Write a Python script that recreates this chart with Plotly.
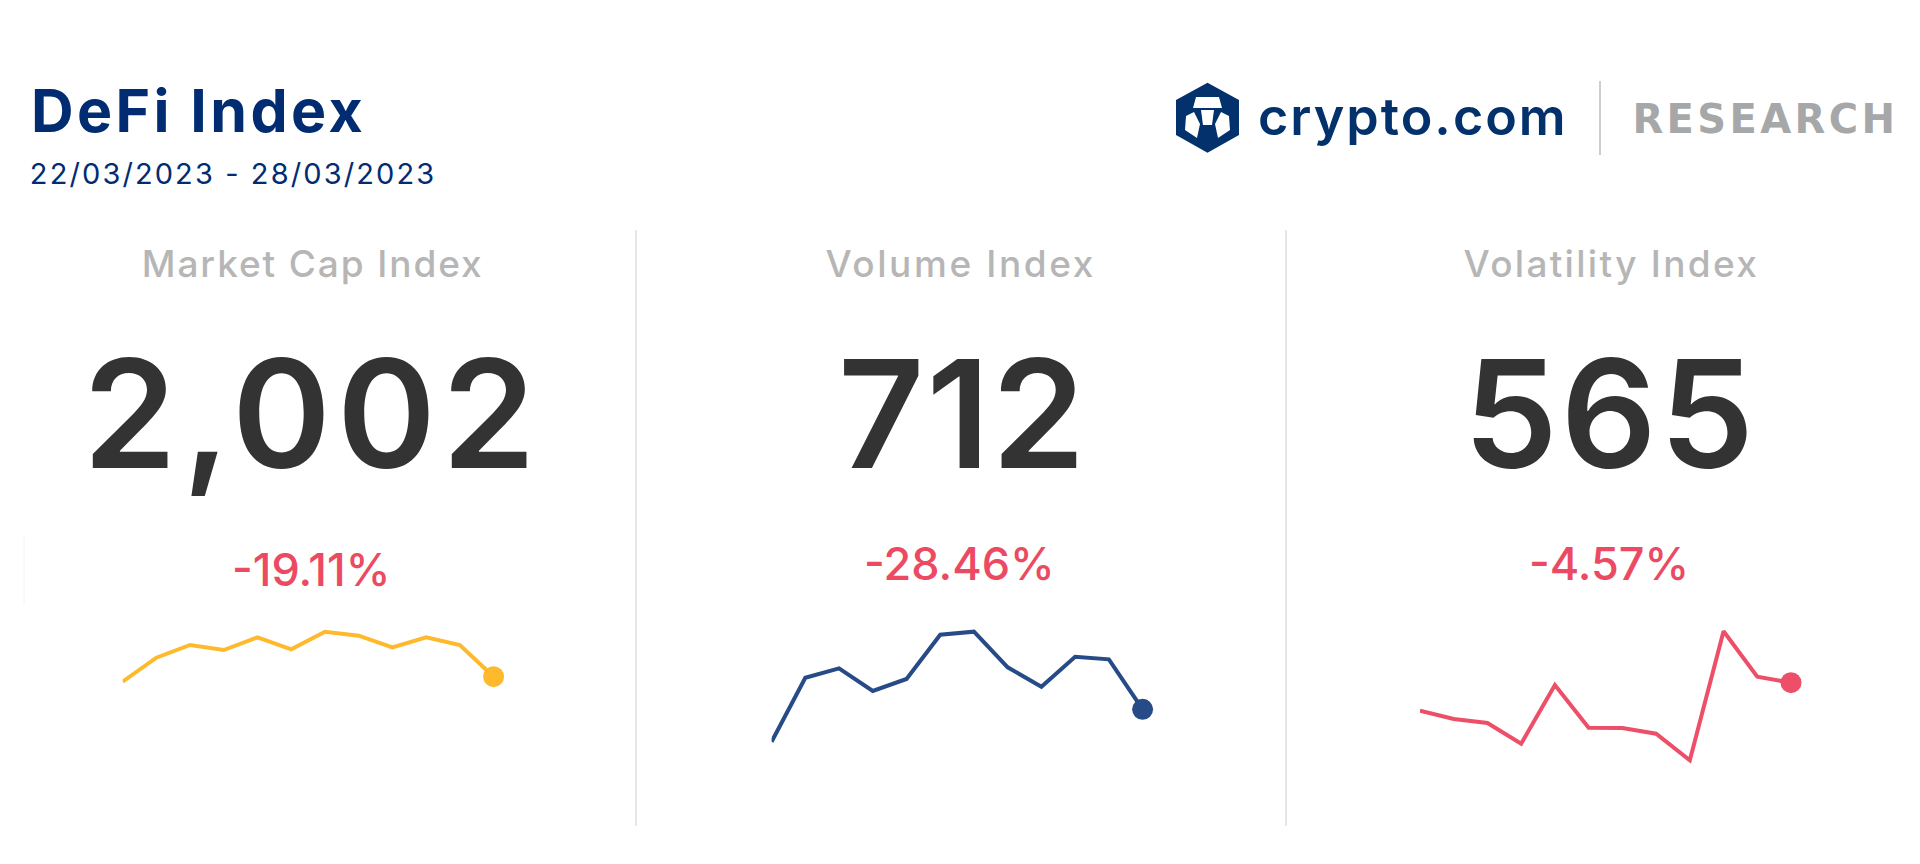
import json

import plotly.graph_objects as go

W = 1920
H = 864

# panel texts
panel_titles = ["Market Cap Index", "Volume Index", "Volatility Index"]
index_values = ["2,002", "712", "565"]
pct_changes = ["-19.11%", "-28.46%", "-4.57%"]

# sparklines (no axis in the original so units are arbitrary)
steps = [0, 1, 2, 3, 4, 5, 6, 7, 8, 9, 10, 11]
market_cap = [118.3, 142.3, 155, 150, 162.7, 150.7, 168.3, 164.3, 152.7, 162.7, 155, 123.3]
volume = [58.3, 122.3, 131.7, 109, 121, 165.3, 168.3, 132.7, 113.3, 143.3, 140.7, 90.7]
volatility = [89.3, 81, 77, 56.3, 115, 72.3, 72, 66.3, 39.7, 168.7, 123.3, 117.3]

series = [market_cap, volume, volatility]
colors = ["#FFB92D", "#274B87", "#EC4F67"]
spark_left = [122.6, 771.6, 1420]
centers = [312, 960, 1611]
big_centers = [312, 962, 1610]
pct_centers = [311, 959, 1609]
pct_y = [569, 563, 563]

GREY = "#B6B6B6"
DARK = "#333333"
RED = "#EC4A63"
NAVY = "#012C72"
FONT = "Inter"

# Inter is narrower than the original face, so open the tracking up a little (px)
tracking = {
    "DeFi Index": 3.4,
    "22/03/2023 - 28/03/2023": 2.1,
    "crypto.com": 2,
    "RESEARCH": 3.4,
    "Market Cap Index": 1.9,
    "Volume Index": 2.6,
    "Volatility Index": 2.3,
    "2,002": 6,
    "712": 2,
    "565": 3,
}


def px(x):
    return x / W


def py(y):
    return 1 - y / H


def label(x, y, text, size, color, weight=400, family=FONT):
    return dict(xref="paper", yref="paper", x=px(x), y=py(y), text=text, showarrow=False,
                xanchor="center", yanchor="middle", font=dict(family=family, size=size, color=color, weight=weight))


def line(x0, y0, x1, y1, color, width=2):
    return dict(type="line", xref="paper", yref="paper", x0=px(x0), y0=py(y0), x1=px(x1), y1=py(y1),
                line=dict(color=color, width=width))


def poly(points, color):
    d = "M " + " L ".join(f"{px(a):.5f},{py(b):.5f}" for a, b in points) + " Z"
    return dict(type="path", xref="paper", yref="paper", path=d, fillcolor=color, line=dict(width=0))


fig = go.Figure()
layout_axes = {}

for i in range(3):
    n = "" if i == 0 else str(i + 1)
    fig.add_trace(go.Scatter(x=steps, y=series[i], mode="lines", xaxis="x" + n, yaxis="y" + n, cliponaxis=False,
                             line=dict(color=colors[i], width=4), hoverinfo="skip", showlegend=False))
    fig.add_trace(go.Scatter(x=steps[-1:], y=series[i][-1:], mode="markers", xaxis="x" + n, yaxis="y" + n,
                             cliponaxis=False, marker=dict(color=colors[i], size=21), hoverinfo="skip",
                             showlegend=False))
    # 1 unit on y = 1 px, zero sits at y=800 px
    layout_axes["xaxis" + n] = dict(domain=[px(spark_left[i]), px(spark_left[i] + 371)], range=[0, 11],
                                    visible=False, fixedrange=True)
    layout_axes["yaxis" + n] = dict(domain=[py(800), py(600)], range=[0, 200], visible=False, fixedrange=True)

annotations = [
    label(198, 111, "DeFi Index", 59, NAVY, 700),
    label(233, 174, "22/03/2023 - 28/03/2023", 29, NAVY),
    label(1412.5, 116, "crypto.com", 52, "#03316C", 600),
    label(1765.5, 119, "RESEARCH", 40, "#A5A7A8", 700, "DejaVu Sans"),
]
for i in range(3):
    annotations.append(label(centers[i], 263, panel_titles[i], 37, GREY, 500))
    annotations.append(label(big_centers[i], 413, index_values[i], 150, DARK, 600))
    annotations.append(label(pct_centers[i], pct_y[i], pct_changes[i], 45, RED, 500))

shapes = [
    line(636, 230, 636, 826, "#E6E6E6"),
    line(1286, 230, 1286, 826, "#E6E6E6"),
    line(24, 535, 24, 605, "#F4F4F4", 1),
    line(1600, 81, 1600, 155, "#BDBDBD", 1.5),
    # logo
    poly([(1207.5, 82.7), (1239, 100), (1239, 135), (1207.5, 152.7), (1176, 135), (1176, 100)], "#03316C"),
    poly([(1196, 97), (1219, 97), (1222, 108), (1193, 108)], "white"),
    poly([(1201, 110), (1214, 110), (1212, 125), (1203, 125)], "white"),
    poly([(1186, 116), (1194, 112), (1200, 124), (1197, 138), (1185, 130)], "white"),
    poly([(1229, 116), (1221, 112), (1215, 124), (1218, 138), (1230, 130)], "white"),
]

fig.update_layout(
    width=W, height=H,
    margin=dict(l=0, r=0, t=0, b=0),
    paper_bgcolor="white", plot_bgcolor="white",
    annotations=annotations, shapes=shapes,
    **layout_axes,
)

script = """
document.body.style.margin = '0';
document.body.style.overflow = 'hidden';
var tracking = %s;
document.querySelectorAll('.annotation-text').forEach(function (t) {
    if (tracking[t.textContent]) { t.style.letterSpacing = tracking[t.textContent] + 'px'; }
});
""" % json.dumps(tracking)

fig.write_html("out.html", config={"displayModeBar": False}, post_script=script)
